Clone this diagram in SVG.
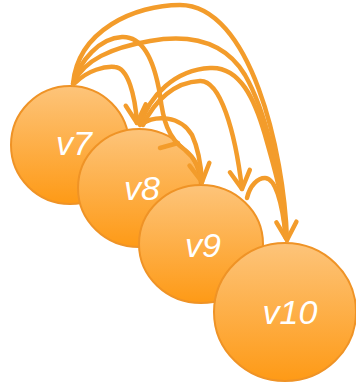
<svg xmlns="http://www.w3.org/2000/svg" width="356" height="382" viewBox="0 0 356 382">
<style>
.node{fill:url(#g);stroke:#EF9326;stroke-width:2}
.lbl{fill:#fff;font-family:"Liberation Sans",Arial,sans-serif;font-style:italic;font-size:34px;text-anchor:middle}
.edge{fill:none;stroke:#F39C2B;stroke-width:4.5;stroke-linecap:round;stroke-linejoin:round}
</style>
<defs>
<linearGradient id="g" x1="0" y1="0" x2="0" y2="1">
<stop offset="0" stop-color="#FDC47A"/>
<stop offset="1" stop-color="#FE9A16"/>
</linearGradient>
<marker id="arr" markerUnits="userSpaceOnUse" markerWidth="30" markerHeight="30" refX="0" refY="0" orient="auto" style="overflow:visible">
<path d="M-18,-10 L0,0 L-18,10" fill="none" stroke="#F39C2B" stroke-width="4.5" stroke-linecap="round" stroke-linejoin="round"/>
</marker>
</defs>
<g id="v7"><ellipse class="node" cx="70" cy="145" rx="59" ry="59"/><text class="lbl" x="74" y="155">v7</text></g>
<g id="v8"><ellipse class="node" cx="139" cy="188" rx="61" ry="59"/><text class="lbl" x="142" y="200">v8</text></g>
<g id="v9"><ellipse class="node" cx="201" cy="244" rx="62" ry="59"/><text class="lbl" x="203" y="257">v9</text></g>
<g id="v10"><ellipse class="node" cx="285" cy="312" rx="71" ry="69"/><text class="lbl" x="290" y="324">v10</text></g>
<g id="connectors">
<path class="edge" d="M73,84 C78,30 135,5 180,5 C250,5 284,150 287,240" marker-end="url(#arr)"/>
<path class="edge" d="M74,82 C85,60 110,48 150,41 C190,34 225,42 245,75 C265,110 280,170 286,238"/>
<path class="edge" d="M140,125 C150,95 175,70 210,68 C240,66 255,100 265,135 C275,170 284,200 286,238"/>
<path class="edge" d="M143,125 C155,100 175,82 200,81 C220,80 235,130 242,189" marker-end="url(#arr)"/>
<path class="edge" d="M73,84 C80,60 100,38 122,37 C145,36 155,65 160,95 C163,120 168,138 185,150 C195,158 200,168 202,182" marker-end="url(#arr)"/>
<path class="edge" d="M142,124 C155,115 180,115 192,135 C198,148 201,165 202,182"/>
<path class="edge" d="M75,83 C88,70 105,66 115,67 C128,68 135,95 137,123" marker-end="url(#arr)"/>
<path class="edge" d="M247,198 C250,185 258,178 265,178 C275,178 282,200 286,238"/>
<path class="edge" d="M160,148 L178,143"/>
</g>
</svg>
